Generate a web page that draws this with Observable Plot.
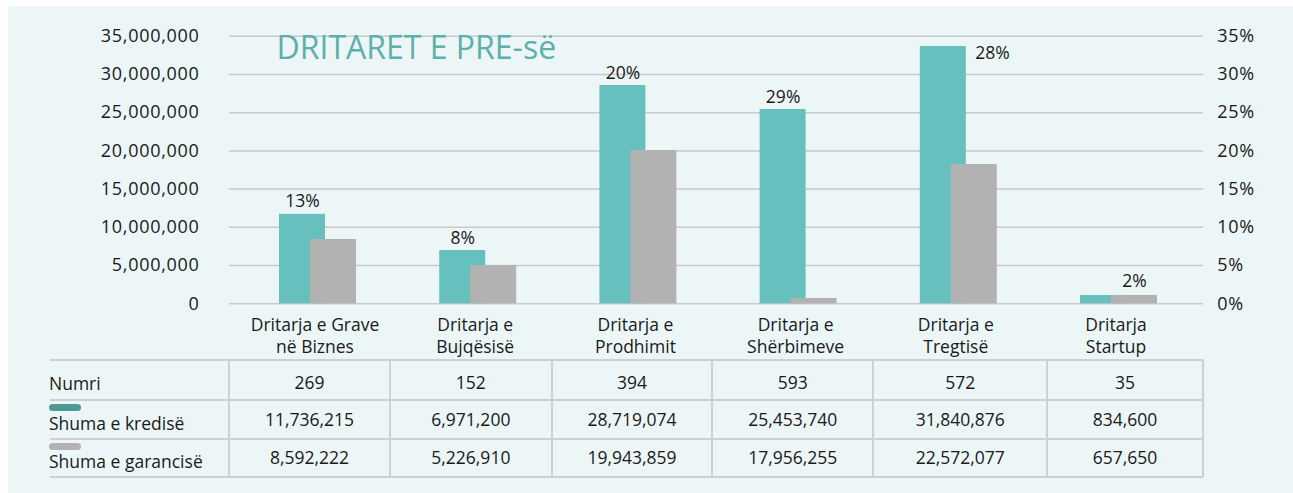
<!DOCTYPE html>
<html>
<head>
<meta charset="utf-8">
<script src="https://cdn.jsdelivr.net/npm/d3@7"></script>
<script src="https://cdn.jsdelivr.net/npm/@observablehq/plot@0.6"></script>
<style>
  html, body { margin: 0; padding: 0; background: #ffffff; overflow: hidden; }
  #page { position: relative; width: 1293px; height: 493px; font-family: "Open Sans", sans-serif; color: #1a1a1a; }
  #bg { position: absolute; left: 8px; top: 6px; right: 0; bottom: 0; background: #edf6f7; }
  #chart { position: absolute; left: 0; top: 0; }
  #chart g[aria-label="y-axis tick label"] text { letter-spacing: 0.7px; }
  .hl, .vl { position: absolute; background: #d0d0d0; }
  .cell { position: absolute; font-size: 17.5px; line-height: 20px; white-space: nowrap; }
  .sw { position: absolute; width: 32px; height: 7px; border-radius: 3.5px; }
</style>
</head>
<body>
<div id="page">
  <div id="bg"></div>
  <div id="chart"></div>
  <div id="table"></div>
</div>
<script>
// ---- data ----
const title = "DRITARET E PRE-së";
const categories = [
  "Dritarja e Grave\nnë Biznes",
  "Dritarja e\nBujqësisë",
  "Dritarja e\nProdhimit",
  "Dritarja e\nShërbimeve",
  "Dritarja e\nTregtisë",
  "Dritarja\nStartup"
];
// bar heights as drawn in the picture
const creditBars    = [11.70e6, 6.97e6, 28.55e6, 25.41e6, 33.65e6, 1.09e6];
const guaranteeBars = [8.41e6, 5.00e6, 20.05e6, 0.69e6, 18.22e6, 1.09e6];
const shareLabels = ["13%", "8%", "20%", "29%", "28%", "2%"];
// table texts
const rowLabels = ["Numri", "Shuma e kredisë", "Shuma e garancisë"];
const countText = ["269", "152", "394", "593", "572", "35"];
const creditText = ["11,736,215", "6,971,200", "28,719,074", "25,453,740", "31,840,876", "834,600"];
const guaranteeText = ["8,592,222", "5,226,910", "19,943,859", "17,956,255", "22,572,077", "657,650"];
// axis ticks
const leftTicks = [0, 5e6, 10e6, 15e6, 20e6, 25e6, 30e6, 35e6];
const rightTickLabels = ["0%", "5%", "10%", "15%", "20%", "25%", "30%", "35%"];

const teal = "#66c0bd";
const gray = "#b2b2b2";
const ink = "#1a1a1a";

const rows = categories.map((cat, i) => ({
  i, cat, credit: creditBars[i], guarantee: guaranteeBars[i], share: shareLabels[i]
}));

const chart = Plot.plot({
  width: 1293,
  height: 360,
  marginLeft: 229,
  marginRight: 90,
  marginTop: 35.7,
  marginBottom: 56.7,
  style: { background: "transparent", fontFamily: "Open Sans, sans-serif", overflow: "visible", color: ink },
  x: { type: "band", domain: categories, range: [237.4, 1198.6], paddingInner: 0.713, paddingOuter: 0.3565, round: false },
  y: { domain: [0, 35e6] },
  marks: [
    Plot.gridY(leftTicks, { stroke: "#c9c9c9", strokeOpacity: 1, strokeWidth: 1.5 }),
    Plot.barY(rows, { x: "cat", y: "credit", fill: teal, dx: -15.5 }),
    Plot.barY(rows, { x: "cat", y: "guarantee", fill: gray, dx: 15.5 }),
    Plot.text(rows.filter(d => d.i < 4), { x: "cat", y: "credit", text: "share", dx: -15.5, dy: -7, lineAnchor: "bottom", fontSize: 17.5, fill: ink }),
    Plot.text(rows.filter(d => d.i === 4), { x: "cat", y: "credit", text: "share", dx: 16.5, dy: 12.3, textAnchor: "start", lineAnchor: "bottom", fontSize: 17.5, fill: ink }),
    Plot.text(rows.filter(d => d.i === 5), { x: "cat", y: "guarantee", text: "share", dx: 15.5, dy: -8.3, lineAnchor: "bottom", fontSize: 17.5, fill: ink }),
    Plot.axisY(leftTicks, { anchor: "left", tickSize: 0, tickPadding: 30, tickFormat: d3.format(","), fontSize: 18, fill: ink, label: null }),
    Plot.axisY(leftTicks, { anchor: "right", tickSize: 0, tickPadding: 13.7, tickFormat: d => rightTickLabels[leftTicks.indexOf(d)], fontSize: 18, fill: ink, label: null }),
    Plot.axisX({ anchor: "bottom", tickSize: 0, tickPadding: 12, fontSize: 17.5, lineHeight: 1.235, dx: -3, fill: ink, label: null }),
    Plot.text([title], { frameAnchor: "top-left", dx: 47, dy: 22.6, textAnchor: "start", lineAnchor: "bottom", fontSize: 32, fill: "#5db0ac" })
  ]
});
document.getElementById("chart").appendChild(chart);

// ---- data table below the chart ----
const table = document.getElementById("table");
const colX = [50, 229, 390, 551.7, 712.3, 873.3, 1047.3, 1202.7];
const rowY = [360, 400.3, 439, 477.3];
const lw = 2;
function add(cls, css, text) {
  const el = document.createElement("div");
  el.className = cls;
  Object.assign(el.style, css);
  if (text != null) el.textContent = text;
  table.appendChild(el);
  return el;
}
rowY.forEach(y => add("hl", { left: colX[0] + "px", top: (y - lw / 2) + "px", width: (colX[7] - colX[0]) + "px", height: lw + "px" }));
colX.slice(1).forEach(x => add("vl", { left: (x - lw / 2) + "px", top: rowY[0] + "px", width: lw + "px", height: (rowY[3] - rowY[0]) + "px" }));

const base = 16.8; // baseline offset inside a 20px line box
const labelBaselines = [390, 429.3, 467.7];
const valueBaselines = [388.3, 425.7, 464];
rowLabels.forEach((t, r) => add("cell", { left: "49px", top: (labelBaselines[r] - base) + "px" }, t));
add("sw", { left: "49px", top: "403.5px", background: "#4f9893" });
add("sw", { left: "49px", top: "443.3px", background: "#b2b2b2" });

[countText, creditText, guaranteeText].forEach((arr, r) => {
  arr.forEach((t, c) => {
    const cx = (colX[c + 1] + colX[c + 2]) / 2;
    add("cell", { left: cx + "px", top: (valueBaselines[r] - base) + "px", transform: "translateX(-50%)" }, t);
  });
});
</script>
</body>
</html>
